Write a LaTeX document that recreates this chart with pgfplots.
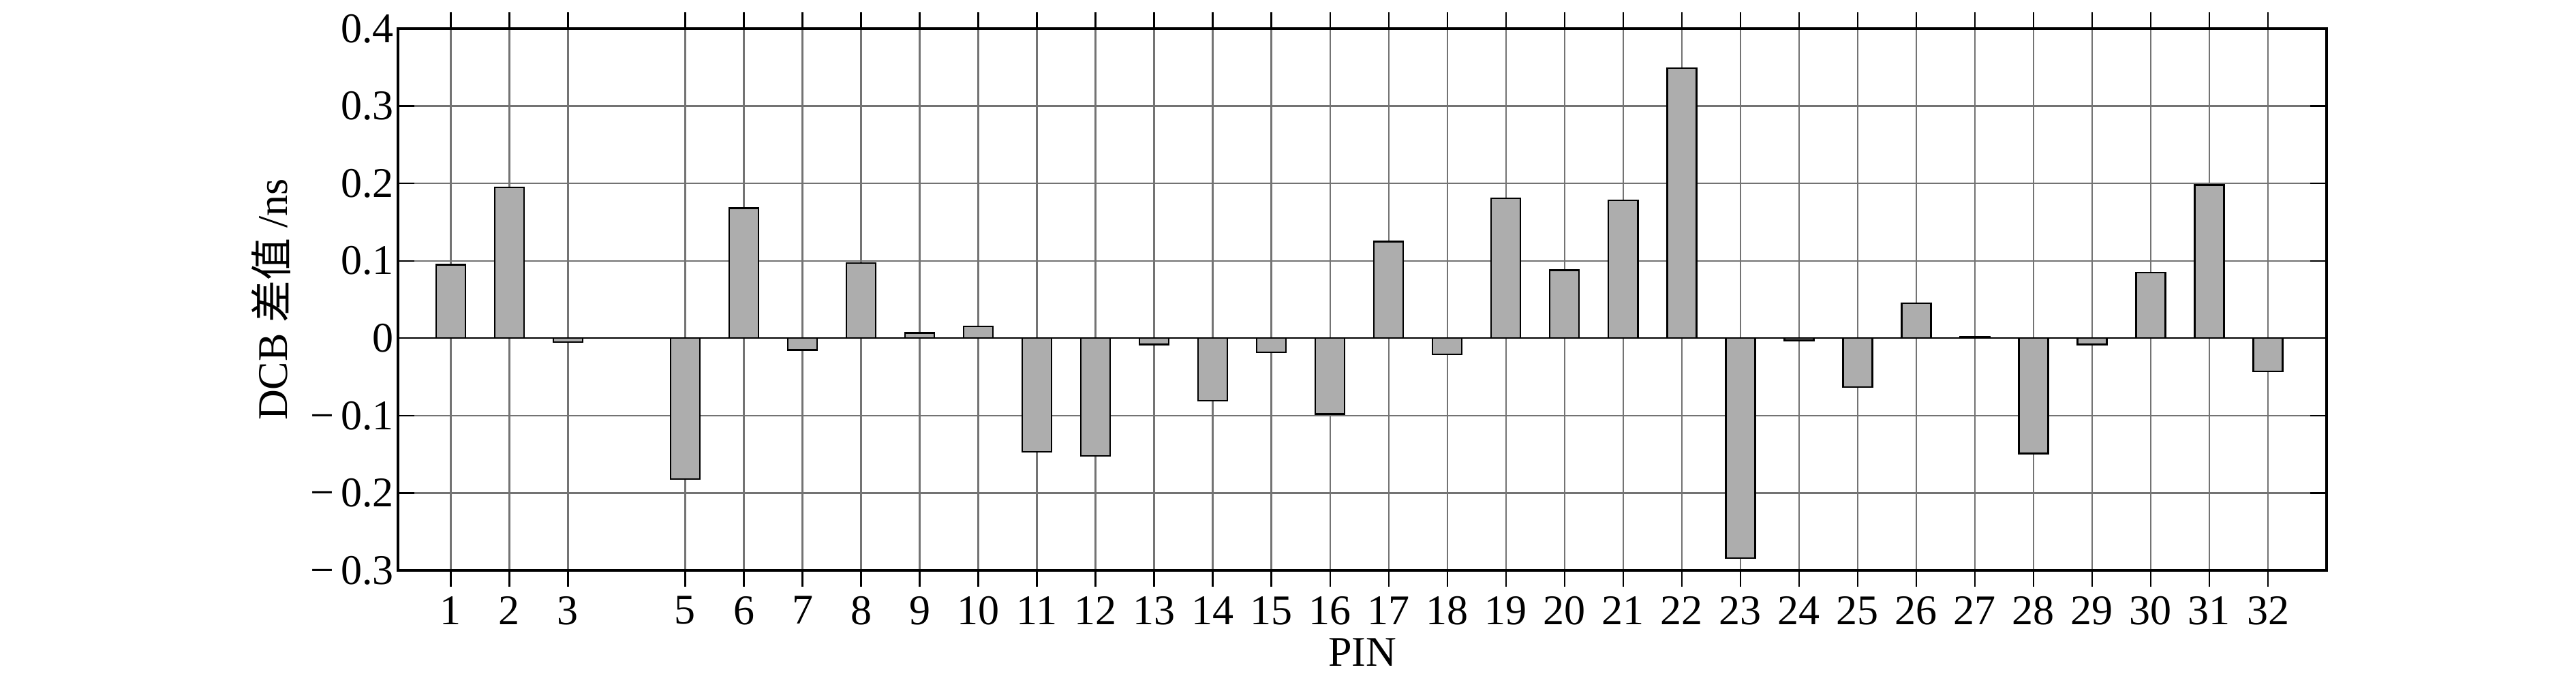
\documentclass[border=0pt]{standalone}
\usepackage{fontspec}
\setmainfont{Liberation Serif}
\newfontfamily\cjk{Noto Sans CJK SC}
\usepackage{pgfplots}
\usepackage{pgfplotstable}
\pgfplotsset{compat=1.18}

% DCB difference per PIN (no value for PIN 4)
\pgfplotstableread{
pin val
1   0.095
2   0.195
3  -0.005
5  -0.182
6   0.168
7  -0.015
8   0.097
9   0.007
10  0.015
11 -0.147
12 -0.152
13 -0.008
14 -0.081
15 -0.018
16 -0.098
17  0.125
18 -0.021
19  0.181
20  0.088
21  0.178
22  0.349
23 -0.284
24 -0.003
25 -0.063
26  0.045
27  0.002
28 -0.149
29 -0.008
30  0.085
31  0.198
32 -0.043
}\dcb

\newcommand{\fs}{\fontsize{15.5}{18}\selectfont}
\newcommand{\mn}{\kern-2pt−\kern2.5pt}

\begin{document}
\begin{tikzpicture}
\begin{axis}[
  name=ax,
  at={(0,0)}, anchor=south west,
  scale only axis,
  width=707.5pt, height=198.75pt,
  xmin=0.1, xmax=33,
  ymin=-0.3, ymax=0.4,
  /pgf/number format/assume math mode=true,
  xtick={1,2,3,5,6,7,8,9,10,11,12,13,14,15,16,17,18,19,20,21,22,23,24,25,26,27,28,29,30,31,32},
  ytick={-0.3,-0.2,-0.1,0,0.1,0.2,0.3,0.4},
  yticklabels={\mn0.3,\mn0.2,\mn0.1,0,0.1,0.2,0.3,0.4},
  extra y ticks={0},
  extra y tick labels={},
  extra y tick style={grid style={black,solid,line width=0.6pt}},
  xmajorgrids, ymajorgrids,
  grid style={black!55,line width=0.6pt},
  tick align=inside,
  major tick length=6pt,
  tick style={black,line width=0.6pt},
  axis line style={black,line width=1pt},
  ticklabel style={font=\fs},
  yticklabel style={xshift=2pt},
  label style={font=\fs},
  xlabel={PIN},
  xlabel style={at={(axis description cs:0.5,-0.151)},anchor=center},
  ylabel={DCB {\cjk 差值} /ns},
  ylabel style={at={(axis description cs:-0.0657,0.5)},anchor=center},
  ybar, bar width=0.5,
]
\addplot[fill=black!32,draw=black,line width=0.6pt] table[x=pin,y=val]{\dcb};
\end{axis}
\path ([xshift=-146pt,yshift=-38.75pt]ax.south west) rectangle ([xshift=91.5pt,yshift=10.5pt]ax.north east);
\end{tikzpicture}
\end{document}
